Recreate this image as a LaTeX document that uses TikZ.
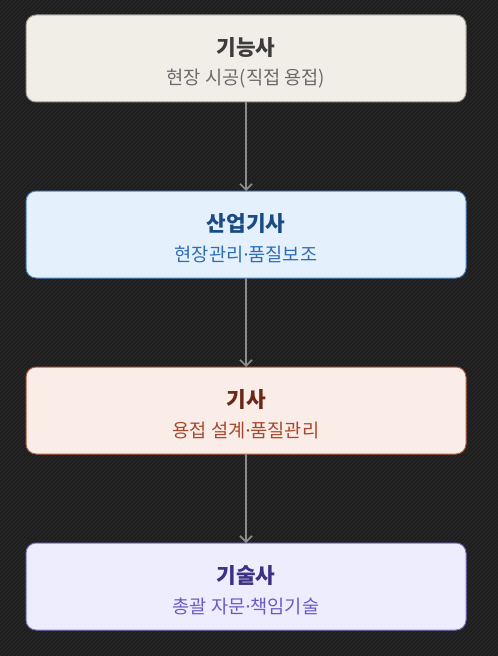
\documentclass[tikz,border=0pt]{standalone}
\usepackage{fontspec}
\setmainfont{Noto Sans CJK KR}
\newfontfamily\dotfont{Noto Sans}
\newcommand{\mdot}{{\dotfont ·}}
\usetikzlibrary{positioning, patterns, arrows.meta}

\definecolor{bgDark}{HTML}{1E1E1E}
\definecolor{bgStripe}{HTML}{2C2C2C}
\definecolor{arrowGray}{HTML}{8C8C8C}
\definecolor{fillA}{HTML}{F1EEE8}
\definecolor{lineA}{HTML}{9A978F}
\definecolor{headA}{HTML}{3C3C3C}
\definecolor{subA}{HTML}{6B6B6B}
\definecolor{fillB}{HTML}{E4F0FC}
\definecolor{lineB}{HTML}{4A80C4}
\definecolor{headB}{HTML}{1B4B85}
\definecolor{subB}{HTML}{2F6DB5}
\definecolor{fillC}{HTML}{FAECE7}
\definecolor{lineC}{HTML}{B5573D}
\definecolor{headC}{HTML}{6B2818}
\definecolor{subC}{HTML}{A9482E}
\definecolor{fillD}{HTML}{EEEDFD}
\definecolor{lineD}{HTML}{7B71CC}
\definecolor{headD}{HTML}{3D3185}
\definecolor{subD}{HTML}{6A5BC4}

\begin{document}
\begin{tikzpicture}[x = 0.75pt, y = -0.75pt,
	card/.style = {draw, rounded corners = 7.5pt, line width = 0.75pt, outer sep = 0pt,
		minimum width = 330pt, minimum height = 65.25pt},
	head/.style = {font = \bfseries\fontsize{16}{19}\selectfont, inner sep = 0pt},
	sub/.style = {font = \fontsize{14}{17}\selectfont, inner sep = 0pt},
	link/.style = {draw = arrowGray, line width = 1.2pt, -{Straight Barb[length = 4.5pt, width = 9pt]}},
	node distance = 66.75pt]
			\def\xMAX{498};
			\def\yMAX{656};

			\begin{scope}
				\fill[bgDark] (0,0) rectangle (\xMAX,\yMAX);
				\fill[pattern = north east lines, pattern color = bgStripe] (0,0) rectangle (\xMAX,\yMAX);
				\useasboundingbox (0,0) rectangle (\xMAX,\yMAX);
			\end{scope}

			\begin{scope}
				\node[card, fill = fillA, draw = lineA] (gineungsa) at (246,58.5) {};
				\node[card, fill = fillB, draw = lineB, below = of gineungsa] (saneop) {};
				\node[card, fill = fillC, draw = lineC, below = of saneop] (gisa) {};
				\node[card, fill = fillD, draw = lineD, below = of gisa] (gisulsa) {};
			\end{scope}

			\begin{scope}
				\node[head, text = headA] (gineungsa-t) at ([yshift = 8.3pt]gineungsa.center) {기능사};
				\node[sub, text = subA] (gineungsa-s) at ([yshift = -14.8pt]gineungsa.center) {현장 시공(직접 용접)};
				\node[head, text = headB] (saneop-t) at ([yshift = 8.3pt]saneop.center) {산업기사};
				\node[sub, text = subB] (saneop-s) at ([yshift = -14.8pt]saneop.center) {현장관리\mdot 품질보조};
				\node[head, text = headC] (gisa-t) at ([yshift = 8.3pt]gisa.center) {기사};
				\node[sub, text = subC] (gisa-s) at ([yshift = -14.8pt]gisa.center) {용접 설계\mdot 품질관리};
				\node[head, text = headD] (gisulsa-t) at ([yshift = 8.3pt]gisulsa.center) {기술사};
				\node[sub, text = subD] (gisulsa-s) at ([yshift = -14.8pt]gisulsa.center) {총괄 자문\mdot 책임기술};
			\end{scope}

			\begin{scope}
				\draw[link] (gineungsa) -- (saneop);
				\draw[link] (saneop) -- (gisa);
				\draw[link] (gisa) -- (gisulsa);
			\end{scope}
		\end{tikzpicture}
\end{document}
